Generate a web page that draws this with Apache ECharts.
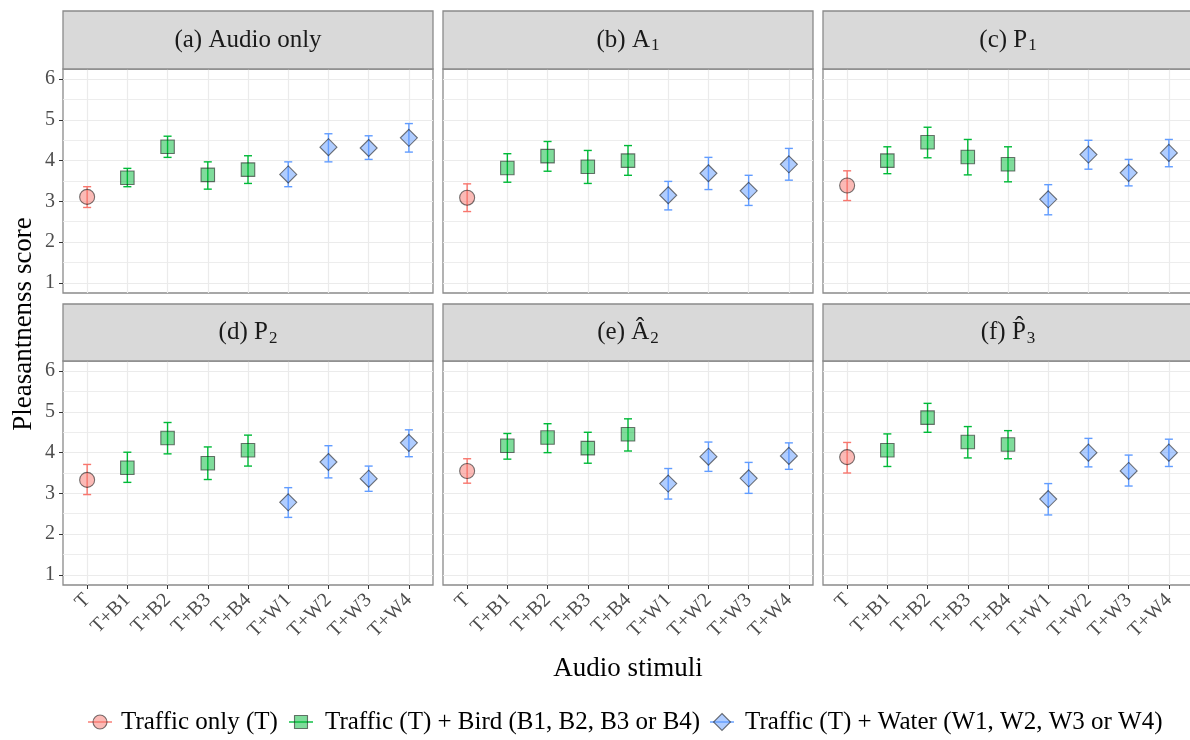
<!DOCTYPE html>
<html><head><meta charset="utf-8">
<script src="https://cdn.jsdelivr.net/npm/echarts@6/dist/echarts.min.js"></script>
<style>html,body{margin:0;padding:0;background:#fff}#c{width:1190px;height:740px}</style>
</head><body><div id="c"></div>
<script>
// ---------- data ----------
const categories = ['T','T+B1','T+B2','T+B3','T+B4','T+W1','T+W2','T+W3','T+W4'];
const groupOf = [0,1,1,1,1,2,2,2,2];
const groupNames = ['Traffic only (T)','Traffic (T) + Bird (B1, B2, B3 or B4)','Traffic (T) + Water (W1, W2, W3 or W4)'];
const yTicks = [1,2,3,4,5,6];
const yMinorTicks = [1.5,2.5,3.5,4.5,5.5];
const xTicks = [1,2,3,4,5,6,7,8,9];

const panelTitles = ['(a) Audio only','(b) A{s|1}','(c) P{s|1}','(d) P{s|2}','(e) \u00C2{s|2}','(f) P\u0302{s|3}'];

const meanA = [3.11,3.58,4.34,3.65,3.78,3.66,4.33,4.31,4.56];
const lowA  = [2.85,3.36,4.08,3.30,3.44,3.36,3.97,4.03,4.21];
const highA = [3.36,3.81,4.60,3.97,4.12,3.97,4.66,4.61,4.91];

const meanB = [3.09,3.82,4.11,3.85,4.00,3.15,3.69,3.26,3.91];
const lowB  = [2.75,3.47,3.74,3.44,3.64,2.79,3.29,2.90,3.52];
const highB = [3.43,4.17,4.47,4.25,4.37,3.49,4.08,3.64,4.30];

const meanC = [3.39,4.00,4.45,4.09,3.91,3.05,4.15,3.70,4.19];
const lowC  = [3.02,3.68,4.07,3.65,3.48,2.67,3.79,3.38,3.85];
const highC = [3.75,4.34,4.82,4.52,4.34,3.41,4.50,4.03,4.52];

const meanD = [3.33,3.63,4.36,3.74,4.06,2.78,3.77,3.36,4.24];
const lowD  = [2.97,3.27,3.97,3.34,3.67,2.41,3.38,3.05,3.90];
const highD = [3.71,4.01,4.74,4.14,4.43,3.14,4.17,3.67,4.56];

const meanE = [3.55,4.17,4.37,4.11,4.45,3.24,3.90,3.37,3.92];
const lowE  = [3.25,3.84,4.00,3.74,4.04,2.86,3.54,3.00,3.59];
const highE = [3.85,4.47,4.71,4.50,4.83,3.61,4.26,3.76,4.24];

const meanF = [3.89,4.06,4.86,4.26,4.20,2.86,4.00,3.55,4.00];
const lowF  = [3.50,3.66,4.50,3.87,3.85,2.47,3.65,3.18,3.66];
const highF = [4.25,4.46,5.21,4.64,4.54,3.24,4.35,3.94,4.33];

// ---------- styling ----------
const FONT = "'Liberation Serif','Times New Roman',serif";
const lineColors = ['#F8766D','#00BA38','#619CFF'];
const fillColors = ['rgba(248,118,109,0.5)','rgba(0,186,56,0.5)','rgba(97,156,255,0.5)'];
const symbols = ['circle','rect','diamond'];
const symbolSizes = [15,13.5,17];
const borderCol = '#8a8a8a';

const panels = [
  {mean: meanA, low: lowA, high: highA},
  {mean: meanB, low: lowB, high: highB},
  {mean: meanC, low: lowC, high: highC},
  {mean: meanD, low: lowD, high: highD},
  {mean: meanE, low: lowE, high: highE},
  {mean: meanF, low: lowF, high: highF}
];

const colLeft = [63, 443, 823];
const panelW = 370;
const rowStripTop = [11, 304];
const rowPlotTop = [69, 361];
const plotH = 224;

const grids = [], xAxes = [], yAxes = [], series = [], graphics = [];

panels.forEach((p, k) => {
  const row = Math.floor(k / 3), col = k % 3;
  const bottomRow = row === 1, leftCol = col === 0;
  grids.push({
    left: colLeft[col], top: rowPlotTop[row], width: panelW, height: plotH,
    show: true, backgroundColor: '#fff', borderColor: borderCol, borderWidth: 1.3,
    outerBoundsMode: 'none', containLabel: false
  });
  xAxes.push({
    type: 'value', gridIndex: k, min: 0.4, max: 9.6,
    axisLine: {show: false},
    axisTick: {show: bottomRow, customValues: xTicks, length: 4, lineStyle: {color: '#333', width: 1}},
    axisLabel: {show: bottomRow, customValues: xTicks, rotate: 45, margin: 12,
      formatter: v => categories[Math.round(v) - 1] || '',
      fontSize: 20, color: '#4d4d4d', fontFamily: FONT},
    splitLine: {show: true, lineStyle: {color: '#ebebeb', width: 1.2}}
  });
  yAxes.push({
    type: 'value', gridIndex: k, min: 0.75, max: 6.25,
    axisLine: {show: false},
    axisTick: {show: leftCol, customValues: yTicks, length: 4, lineStyle: {color: '#333', width: 1}},
    axisLabel: {show: leftCol, customValues: yTicks, margin: 8,
      fontSize: 20, color: '#4d4d4d', fontFamily: FONT},
    splitLine: {show: true, lineStyle: {color: '#ebebeb', width: 1.2}}
  });

  // error bars
  series.push({
    type: 'custom', xAxisIndex: k, yAxisIndex: k, z: 2,
    data: p.mean.map((m, i) => [i + 1, p.low[i], p.high[i], groupOf[i]]),
    encode: {x: 0, y: [1, 2]},
    renderItem: (params, api) => {
      const x = api.value(0), lo = api.value(1), hi = api.value(2), g = api.value(3);
      const a = api.coord([x, lo]), b = api.coord([x, hi]);
      const hw = api.size([0.2, 0])[0] / 2;
      const st = {stroke: lineColors[g], lineWidth: 1.4};
      return {type: 'group', children: [
        {type: 'line', shape: {x1: a[0], y1: a[1], x2: b[0], y2: b[1]}, style: st},
        {type: 'line', shape: {x1: a[0] - hw, y1: a[1], x2: a[0] + hw, y2: a[1]}, style: st},
        {type: 'line', shape: {x1: b[0] - hw, y1: b[1], x2: b[0] + hw, y2: b[1]}, style: st}
      ]};
    },
    markLine: {
      silent: true, symbol: 'none', z: 1, animation: false,
      label: {show: false},
      lineStyle: {color: '#ebebeb', width: 0.9, type: 'solid'},
      data: yMinorTicks.map(v => ({yAxis: v}))
    },
    silent: true
  });
  // points
  [0, 1, 2].forEach(g => {
    series.push({
      type: 'scatter', xAxisIndex: k, yAxisIndex: k, z: 3,
      name: groupNames[g],
      symbol: symbols[g], symbolSize: symbolSizes[g],
      itemStyle: {color: fillColors[g], borderColor: 'rgba(30,30,30,0.6)', borderWidth: 1.1, opacity: 1},
      data: p.mean.map((m, i) => groupOf[i] === g ? [i + 1, m] : null).filter(d => d),
      silent: true
    });
  });

  // strip
  graphics.push({
    type: 'rect', z: 10,
    shape: {x: colLeft[col], y: rowStripTop[row], width: panelW, height: rowPlotTop[row] - rowStripTop[row]},
    style: {fill: '#d9d9d9', stroke: borderCol, lineWidth: 1.3}
  });
  graphics.push({
    type: 'text', z: 11,
    x: colLeft[col] + panelW / 2, y: (rowStripTop[row] + rowPlotTop[row]) / 2,
    style: {
      text: panelTitles[k], fontSize: 25, fontFamily: FONT, fill: '#1a1a1a',
      align: 'center', verticalAlign: 'middle',
      rich: {s: {fontSize: 17, fontFamily: FONT, fill: '#1a1a1a', padding: [12, 0, 0, 1]}}
    }
  });
});

// axis titles
graphics.push({type: 'text', z: 11, x: 628, y: 669,
  style: {text: 'Audio stimuli', fontSize: 27, fontFamily: FONT, fill: '#000', align: 'center', verticalAlign: 'middle'}});
graphics.push({type: 'text', z: 11, x: 24, y: 324, rotation: Math.PI / 2,
  style: {text: 'Pleasantnenss score', fontSize: 27, fontFamily: FONT, fill: '#000', align: 'center', verticalAlign: 'middle'}});

// legend
const legendKeys = [100, 301, 722];
const legendText = [121, 325, 745];
const legY = 722;
[0, 1, 2].forEach(g => {
  const cx = legendKeys[g];
  graphics.push({type: 'line', z: 11, shape: {x1: cx - 12, y1: legY, x2: cx + 12, y2: legY},
    style: {stroke: lineColors[g], lineWidth: 1.4}});
  const st = {fill: fillColors[g], stroke: 'rgba(30,30,30,0.6)', lineWidth: 1.1};
  if (g === 0) graphics.push({type: 'circle', z: 12, shape: {cx: cx, cy: legY, r: 7}, style: st});
  else if (g === 1) graphics.push({type: 'rect', z: 12, shape: {x: cx - 6.5, y: legY - 6.5, width: 13, height: 13}, style: st});
  else graphics.push({type: 'polygon', z: 12, shape: {points: [[cx, legY - 8.5], [cx + 8.5, legY], [cx, legY + 8.5], [cx - 8.5, legY]]}, style: st});
  graphics.push({type: 'text', z: 11, x: legendText[g], y: legY,
    style: {text: groupNames[g], fontSize: 25, fontFamily: FONT, fill: '#000', align: 'left', verticalAlign: 'middle'}});
});

const chart = echarts.init(document.getElementById('c'), null, {renderer: 'canvas'});
chart.setOption({
  animation: false,
  backgroundColor: '#fff',
  grid: grids, xAxis: xAxes, yAxis: yAxes, series: series, graphic: graphics
});
</script></body></html>
